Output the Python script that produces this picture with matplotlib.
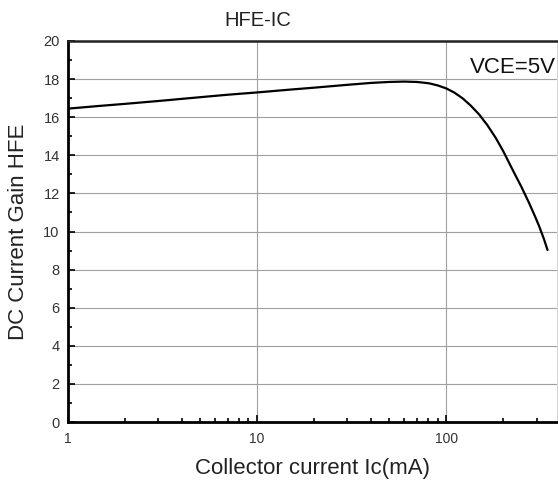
import matplotlib
matplotlib.use("Agg")
import matplotlib.pyplot as plt
from matplotlib.ticker import FixedLocator, NullFormatter

plt.rcParams['font.family'] = ['Liberation Sans', 'DejaVu Sans']

# HFE vs collector current
ic_ma = [1, 1.5, 2, 3, 5, 7, 10, 15, 20, 30, 40, 50, 60, 70, 81, 90, 100,
         110, 122, 135, 149, 165, 183, 200, 224, 250, 274, 295, 310, 328, 343]
hfe = [16.45, 16.6, 16.7, 16.85, 17.05, 17.18, 17.3, 17.45, 17.55, 17.7,
       17.8, 17.85, 17.87, 17.85, 17.78, 17.67, 17.51, 17.3, 16.99, 16.6,
       16.15, 15.58, 14.9, 14.22, 13.25, 12.33, 11.5, 10.78, 10.27, 9.62, 9.03]

x_major = [1, 10, 100]
x_labels = ["1", "10", "100"]
y_major = [0, 2, 4, 6, 8, 10, 12, 14, 16, 18, 20]

fig = plt.figure(figsize=(5.58, 4.87), dpi=100)
ax = fig.add_axes([68 / 558, 65 / 487, 489 / 558, 381 / 487])

ax.plot(ic_ma, hfe, color="black", lw=1.6, solid_capstyle="round",
        solid_joinstyle="round")

ax.set_xscale("log")
ax.set_xlim(1, 385)
ax.set_ylim(0, 20)

ax.xaxis.set_major_locator(FixedLocator(x_major))
ax.set_xticklabels(x_labels)
minor_x = [m * d for d in (1, 10, 100) for m in range(2, 10) if m * d < 385]
ax.xaxis.set_minor_locator(FixedLocator(minor_x))
ax.xaxis.set_minor_formatter(NullFormatter())
ax.set_yticks(y_major)
ax.set_yticks(range(1, 20, 2), minor=True)

ax.grid(True, which="major", color="#a0a0a0", lw=0.8)
ax.set_axisbelow(True)

ax.tick_params(which="both", direction="in", color="black", width=1.2)
ax.tick_params(which="major", length=5)
ax.tick_params(which="minor", length=3)
ax.tick_params(axis="x", which="major", labelsize=10, labelcolor="#333333", pad=7)
ax.tick_params(axis="y", which="major", labelsize=10.5, labelcolor="#333333", pad=6)
ax.tick_params(top=False, right=False)

for side in ("left", "bottom"):
    ax.spines[side].set_linewidth(2)
    ax.spines[side].set_color("black")
ax.spines["top"].set_linewidth(1.8)
ax.spines["top"].set_color("#222222")
ax.spines["right"].set_linewidth(0.6)
ax.spines["right"].set_color("#cccccc")

ax.set_xlabel("Collector current Ic(mA)", fontsize=16, color="#222222", labelpad=9)
ax.set_ylabel("DC Current Gain HFE", fontsize=16, color="#222222", labelpad=10)

fig.text(258 / 558, 1 - 20 / 487, "HFE-IC", fontsize=14.5, color="#222222",
         ha="center", va="center")
ax.text(0.997, 18.6, "VCE=5V", transform=ax.get_yaxis_transform(),
        fontsize=16, color="#111111", ha="right", va="center")

fig.savefig("out.png", dpi=100)
